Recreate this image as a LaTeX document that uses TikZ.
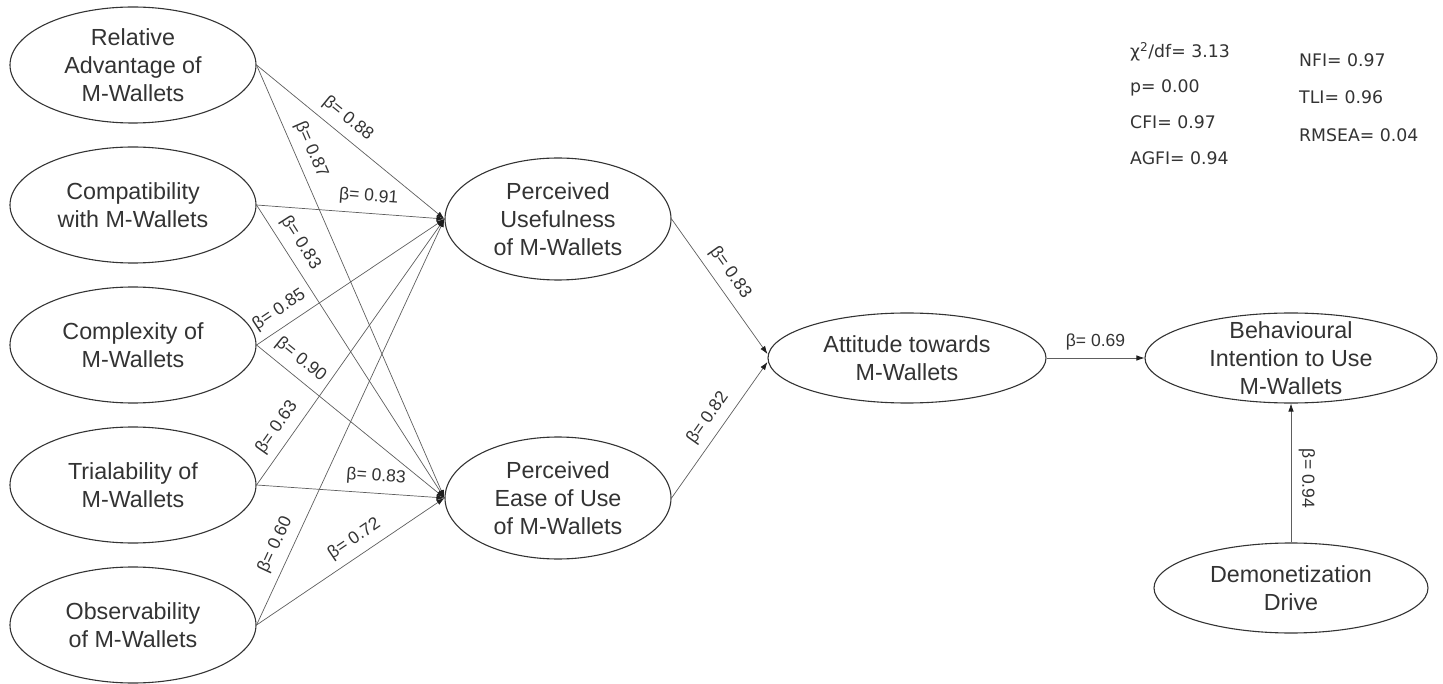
\documentclass[tikz,border=0pt]{standalone}
\usepackage{fontspec}
\setmainfont{Liberation Sans}
\newfontfamily\fitfont{DejaVu Sans}
\usetikzlibrary{shapes.geometric,arrows.meta,calc}
\definecolor{ink}{HTML}{333333}
\definecolor{edgec}{HTML}{5E5E5E}
\definecolor{tipc}{HTML}{1E1E1E}
\begin{document}
\begin{tikzpicture}[x=1pt,y=-1pt,
  ell/.style={ellipse, draw=ink, line width=1.1pt, inner sep=0pt},
  leftell/.style={ell, minimum width=246pt, minimum height=116pt},
  midell/.style={ell, minimum width=226pt, minimum height=122pt},
  lt/.style={font=\fontsize{23.3}{28}\selectfont, text=ink, align=center, inner sep=0pt},
  conn/.style={draw=edgec, line width=0.7pt, -{Latex[length=8pt,width=5.5pt,color=tipc]}},
  betafont/.style={font=\fontsize{17.5}{20}\selectfont, text=ink, inner sep=3pt},
  beta/.style={betafont, sloped, above=5pt},
  fitt/.style={font=\fitfont\fontsize{17.3}{20}\selectfont, text=ink, anchor=west, inner sep=0pt}]
\useasboundingbox (0,0) rectangle (1443,684);

% left constructs
\node[leftell] (rel) at (133,65) {};
\node[lt] (relt) at (rel.center) {Relative\\Advantage of\\M-Wallets};
\node[leftell] (com) at (133,205) {};
\node[lt] (comt) at (com.center) {Compatibility\\with M-Wallets};
\node[leftell] (cpx) at (133,345) {};
\node[lt] (cpxt) at (cpx.center) {Complexity of\\M-Wallets};
\node[leftell] (tri) at (133,485) {};
\node[lt] (trit) at (tri.center) {Trialability of\\M-Wallets};
\node[leftell] (obs) at (133,625) {};
\node[lt] (obst) at (obs.center) {Observability\\of M-Wallets};

% middle constructs
\node[midell] (pu) at (558,219) {};
\node[lt] (put) at (pu.center) {Perceived\\Usefulness\\of M-Wallets};
\node[midell] (peou) at (558,498) {};
\node[lt] (peout) at (peou.center) {Perceived\\Ease of Use\\of M-Wallets};

% right constructs
\node[ell, minimum width=278pt, minimum height=90pt] (att) at (907,358) {};
\node[lt] (attt) at (att.center) {Attitude towards\\M-Wallets};
\node[ell, minimum width=292pt, minimum height=90pt] (bi) at (1291,358) {};
\node[lt] (bit) at (bi.center) {Behavioural\\Intention to Use\\M-Wallets};
\node[ell, minimum width=274pt, minimum height=90pt] (demo) at (1291,588) {};
\node[lt] (demot) at (demo.center) {Demonetization\\Drive};

% paths from left constructs
\draw[conn] (rel.east) -- node[beta, pos=0.43] (b1) {β= 0.88} (pu.west);
\draw[conn] (rel.east) -- node[beta, pos=0.21] (b2) {β= 0.87} (peou.west);
\draw[conn] (com.east) -- node[beta, pos=0.59] (b3) {β= 0.91} (pu.west);
\draw[conn] (com.east) -- node[beta, pos=0.16] (b4) {β= 0.83} (peou.west);
\draw[conn] (cpx.east) -- node[beta, pos=0.17] (b5) {β= 0.85} (pu.west);
\draw[conn] (cpx.east) -- node[beta, pos=0.18] (b6) {β= 0.90} (peou.west);
\draw[conn] (tri.east) -- node[beta, pos=0.18] (b7) {β= 0.63} (pu.west);
\draw[conn] (tri.east) -- node[beta, pos=0.63] (b8) {β= 0.83} (peou.west);
\draw[conn] (obs.east) -- node[beta, pos=0.18] (b9) {β= 0.60} (pu.west);
\draw[conn] (obs.east) -- node[beta, pos=0.57] (b10) {β= 0.72} (peou.west);

% paths to attitude
\draw[conn] (pu.east) -- node[beta, pos=0.47] (b11) {β= 0.83} ($(att.west)+(0,-4)$);
\draw[conn] (peou.east) -- node[beta, pos=0.52] (b12) {β= 0.82} ($(att.west)+(0,4)$);

% attitude to intention
\draw[conn] (att.east) -- node[beta, pos=0.5] (b13) {β= 0.69} (bi.west);

% demonetization to intention
\draw[conn] (demo.north) -- (bi.south);
\node[betafont, rotate=-90] (b14) at ($(demo.north)!0.46!(bi.south)+(16,0)$) {β= 0.94};

% fit indices
\node[fitt] (chi) at (1130,52) {χ\textsuperscript{2}/df= 3.13};
\node[fitt] (pval) at (1130,88) {p= 0.00};
\node[fitt] (cfi) at (1130,122) {CFI= 0.97};
\node[fitt] (agfi) at (1130,158) {AGFI= 0.94};
\node[fitt] (nfi) at (1299,60) {NFI= 0.97};
\node[fitt] (tli) at (1299,97) {TLI= 0.96};
\node[fitt] (rmsea) at (1299,135) {RMSEA= 0.04};
\end{tikzpicture}
\end{document}
